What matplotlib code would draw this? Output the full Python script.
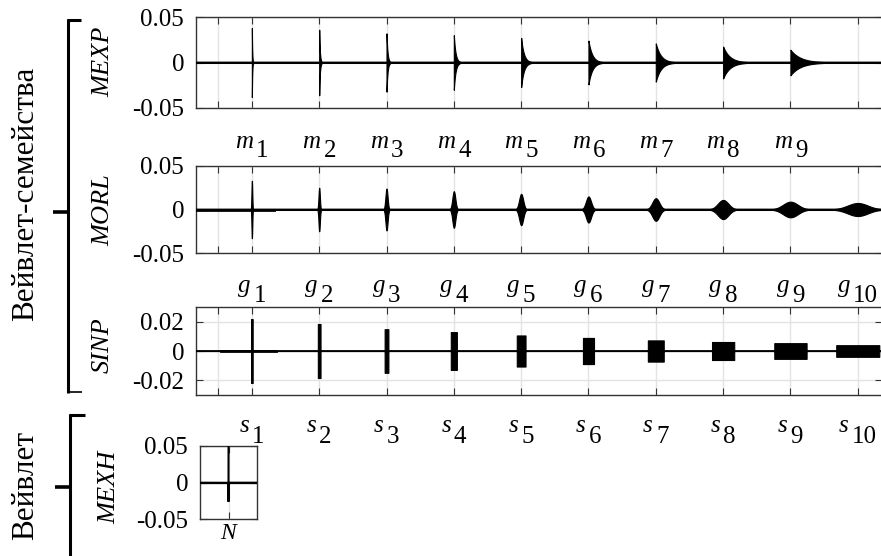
import numpy as np
import matplotlib
matplotlib.use("Agg")
import matplotlib.pyplot as plt
from matplotlib.lines import Line2D

plt.rcParams['font.family'] = ['Liberation Serif', 'DejaVu Serif']

# ---------------- data ----------------
centers = [1, 2, 3, 4, 5, 6, 7, 8, 9, 10]

# MEXP: one-sided exponentially decaying packets (peak amplitude, decay length)
mexp_centers = [1, 2, 3, 4, 5, 6, 7, 8, 9]
mexp_amp = [0.038, 0.036, 0.032, 0.030, 0.027, 0.024, 0.021, 0.0175, 0.014]
mexp_tau = [0.005, 0.010, 0.015, 0.025, 0.040, 0.055, 0.075, 0.100, 0.150]

# MORL: gaussian-envelope packets (peak amplitude, envelope sigma)
morl_amp = [0.033, 0.025, 0.024, 0.021, 0.018, 0.015, 0.013, 0.011, 0.009, 0.0075]
morl_sigma = [0.006, 0.010, 0.016, 0.022, 0.030, 0.038, 0.052, 0.078, 0.110, 0.150]
morl_noise_span = [0.18, 1.33]

# SINP: rectangular packets (amplitude, half width)
sinp_amp = [0.022, 0.0186, 0.015, 0.013, 0.0107, 0.009, 0.0073, 0.0062, 0.0054, 0.0040]
sinp_halfwidth = [0.012, 0.020, 0.028, 0.045, 0.065, 0.082, 0.118, 0.165, 0.240, 0.320]
sinp_noise_span = [0.54, 1.36]

# MEXH single wavelet
mexh_amp = 0.058
mexh_sigma = 0.008

m_letter, g_letter, s_letter = 'm', 'g', 's'
m_index = ['1', '2', '3', '4', '5', '6', '7', '8', '9']
g_index = ['1', '2', '3', '4', '5', '6', '7', '8', '9', '10']
s_index = ['1', '2', '3', '4', '5', '6', '7', '8', '9', '10']

xticks_main = [0.5, 1, 2, 3, 4, 5, 6, 7, 8, 9, 10]
yticks_05 = [-0.05, 0, 0.05]
yticks_02 = [-0.02, 0, 0.02]
ytick_labels_05 = ['-0.05', '0', '0.05']
ytick_labels_02 = ['-0.02', '0', '0.02']

# ---------------- figure ----------------
W, H = 881, 556
fig = plt.figure(figsize=(W / 100, H / 100), dpi=100)

def rect(left, top, right, bottom):
    return [left / W, 1 - bottom / H, (right - left) / W, (bottom - top) / H]

XMIN, XMAX = 0.17, 10.36
x = np.linspace(0, 10.5, 52501)

grid_color = '#e3e3e3'
spine_color = '#333333'

def style(ax, yticks, ylabels, ylim):
    ax.set_ylim(*ylim)
    ax.set_yticks(yticks)
    ax.set_yticklabels(ylabels)
    ax.grid(True, color=grid_color, lw=1.0, zorder=0)
    ax.set_axisbelow(True)
    ax.tick_params(direction='in', length=5, width=0.8, top=True, right=True,
                   labelsize=18, pad=8.5, color=spine_color, labelbottom=False)
    for sp in ax.spines.values():
        sp.set_color(spine_color)
        sp.set_linewidth(1.0)

label_pairs = []
GAP_PX = 3

def index_labels(ax, letter, idx, base_dy, dig_dy):
    for c, d in zip(centers, idx):
        t1 = ax.annotate(letter, xy=(c, 0), xycoords=('data', 'axes fraction'),
                         xytext=(0, -base_dy * 0.72), textcoords='offset points',
                         ha='left', va='baseline', fontsize=18, style='italic',
                         annotation_clip=False)
        t2 = ax.annotate(d, xy=(c, 0), xycoords=('data', 'axes fraction'),
                         xytext=(0, -dig_dy * 0.72), textcoords='offset points',
                         ha='left', va='baseline', fontsize=18, annotation_clip=False)
        label_pairs.append((t1, t2, base_dy, dig_dy))

# ---- MEXP ----
ax1 = fig.add_axes(rect(196, 17, 882, 108))
env = np.zeros_like(x)
for c, a, t in zip(mexp_centers, mexp_amp, mexp_tau):
    m = x >= c - 1e-9
    env += np.where(m, a * np.exp(-np.clip(x - c, 0, None) / t), 0.0)
sel = (x >= XMIN) & (x <= XMAX)
ax1.plot(x[sel], np.zeros(sel.sum()), color='black', lw=1.3, zorder=3)
ax1.fill_between(x[sel], -env[sel], env[sel], color='black', lw=0.8, zorder=4)
ax1.set_xlim(XMIN, XMAX)
ax1.set_xticks(xticks_main)
style(ax1, yticks_05, ytick_labels_05, (-0.05, 0.05))
index_labels(ax1, m_letter, m_index, 40, 49)

# ---- MORL ----
ax2 = fig.add_axes(rect(196, 166, 882, 253))
env = np.zeros_like(x)
for c, a, s in zip(centers, morl_amp, morl_sigma):
    env += a * np.exp(-0.5 * ((x - c) / s) ** 2)
ax2.plot(x[sel], np.zeros(sel.sum()), color='black', lw=1.3, zorder=3)
ax2.plot(morl_noise_span, [0, 0], color='black', lw=2.0, zorder=3)
ax2.fill_between(x[sel], -env[sel], env[sel], color='black', lw=0.8, zorder=4)
ax2.set_xlim(XMIN, XMAX)
ax2.set_xticks(xticks_main)
style(ax2, yticks_05, ytick_labels_05, (-0.05, 0.05))
index_labels(ax2, g_letter, g_index, 39, 49)

# ---- SINP ----
ax3 = fig.add_axes(rect(196, 307, 882, 395))
env = np.zeros_like(x)
for c, a, hw in zip(centers, sinp_amp, sinp_halfwidth):
    env += np.where(np.abs(x - c) <= hw, a, 0.0)
ax3.plot(x[sel], np.zeros(sel.sum()), color='black', lw=1.3, zorder=3)
ax3.plot(sinp_noise_span, [0, 0], color='black', lw=2.0, zorder=3)
ax3.fill_between(x[sel], -env[sel], env[sel], color='black', lw=0.8, zorder=4)
ax3.set_xlim(XMIN, XMAX)
ax3.set_xticks(xticks_main)
style(ax3, yticks_02, ytick_labels_02, (-0.0303, 0.0303))
index_labels(ax3, s_letter, s_index, 37, 48)

# ---- MEXH ----
ax4 = fig.add_axes(rect(200, 446, 257, 519))
xm = np.linspace(-1, 1, 40001)
u = xm / mexh_sigma
ym = mexh_amp * (1 - u ** 2) * np.exp(-0.5 * u ** 2)
ax4.plot([-1, 1], [0, 0], color='black', lw=1.6, zorder=3)
ax4.plot(xm, ym, color='black', lw=1.1, zorder=4)
ax4.set_xlim(-1, 1)
ax4.set_xticks([0])
style(ax4, yticks_05, ytick_labels_05, (-0.05, 0.05))
ax4.set_xlabel('N', fontsize=17, style='italic', labelpad=3)

# ---- y labels ----
for txt, yc, xc in [('MEXP', 62, 103), ('MORL', 210, 103), ('SINP', 345, 103), ('MEXH', 487, 109)]:
    fig.text(xc / W, 1 - yc / H, txt, rotation=90, ha='center', va='center',
             fontsize=19, style='italic')

# ---- brackets ----
def fline(x0, y0, x1, y1, lw):
    fig.add_artist(Line2D([x0 / W, x1 / W], [1 - y0 / H, 1 - y1 / H],
                          color='black', lw=lw, solid_capstyle='butt'))

fline(68, 19, 68, 393, 2.2)
fline(67, 20, 81, 20, 2.2)
fline(67, 392, 82, 392, 1.2)
fline(53, 212, 68, 212, 2.6)

fline(70, 414, 70, 556, 2.2)
fline(69, 415, 85, 415, 2.2)
fline(55, 487, 70, 487, 2.6)

fig.text(26 / W, 1 - 194 / H, 'Вейвлет-семейства', rotation=90, ha='center',
         va='center', fontsize=22.5)
fig.text(26 / W, 1 - 485 / H, 'Вейвлет', rotation=90, ha='center',
         va='center', fontsize=22.5)

# center each "letter + index" label pair on its tick
fig.canvas.draw()
r = fig.canvas.get_renderer()
for t1, t2, bdy, ddy in label_pairs:
    w1 = t1.get_window_extent(r).width
    w2 = t2.get_window_extent(r).width
    total = w1 + GAP_PX + w2
    start = -total / 2.0
    t1.xyann = (start * 0.72, -bdy * 0.72)
    t2.xyann = ((start + w1 + GAP_PX) * 0.72, -ddy * 0.72)

fig.savefig('out.png', dpi=100)
